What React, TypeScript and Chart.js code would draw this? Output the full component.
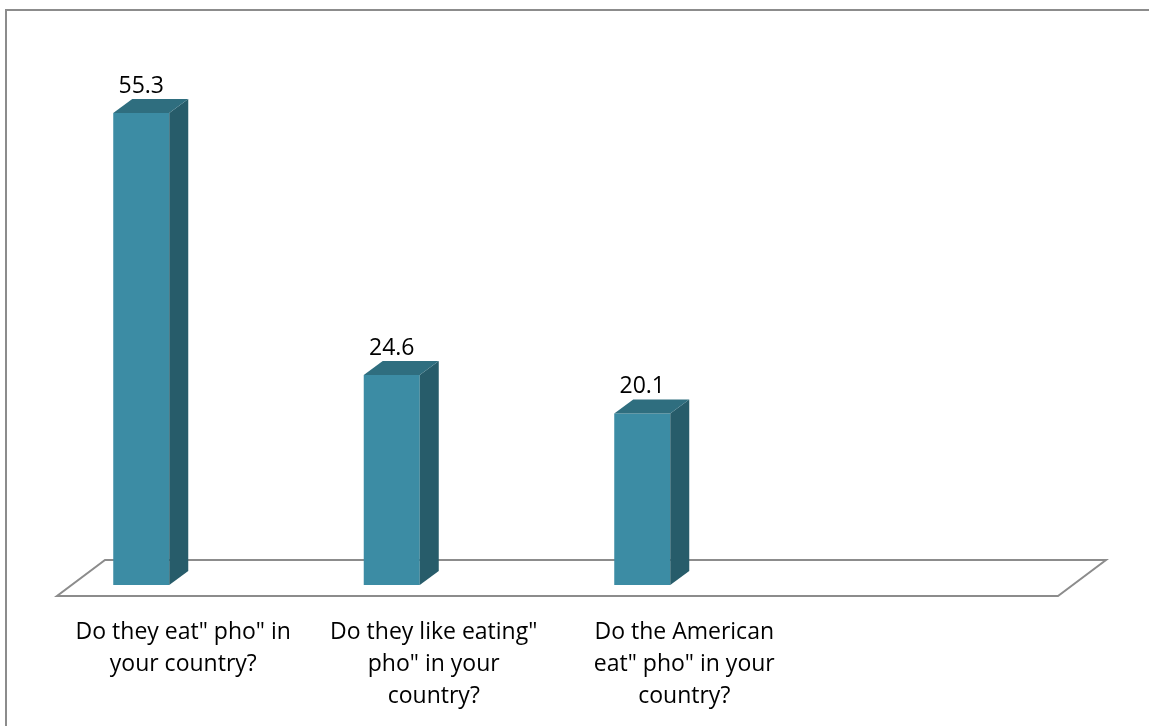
import React, { useEffect, useRef } from "react";
import { Chart, registerables } from "chart.js";

Chart.register(...registerables);

// Survey questions (the fourth slot is left empty)
const categories: string[][] = [
  ['Do they eat" pho" in', "your country?"],
  ['Do they like eating"', 'pho" in your', "country?"],
  ["Do the American", 'eat" pho" in your', "country?"],
  [""],
];
const values: (number | null)[] = [55.3, 24.6, 20.1, null];
const valueLabels: string[] = ["55.3", "24.6", "20.1", ""];

const FONT = "'Open Sans', Lato, sans-serif";
const FRONT = "#3C8CA4";
const SIDE = "#275C6A";
const TOP = "#2F6E7F";
const DEPTH_X = 19;
const DEPTH_Y = 14;

// Draws the 3D floor, the bar depth faces and the value labels
const box3d = {
  id: "box3d",
  beforeDatasetsDraw(chart: any) {
    const { ctx, chartArea } = chart;
    const { left, right, bottom } = chartArea;
    ctx.save();
    ctx.strokeStyle = "#8c8c8c";
    ctx.lineWidth = 2;
    ctx.lineJoin = "miter";
    ctx.beginPath();
    ctx.moveTo(left + 41, bottom + 11);
    ctx.lineTo(right + 40, bottom + 11);
    ctx.lineTo(right + 88, bottom - 25);
    ctx.lineTo(left + 89, bottom - 25);
    ctx.closePath();
    ctx.stroke();
    ctx.restore();
  },
  afterDatasetsDraw(chart: any) {
    const { ctx } = chart;
    const meta = chart.getDatasetMeta(0);
    ctx.save();
    meta.data.forEach((bar: any, i: number) => {
      if (values[i] == null) return;
      const { x, y, base, width } = bar.getProps(["x", "y", "base", "width"], true);
      const l = x - width / 2;
      const r = x + width / 2;
      // side face
      ctx.fillStyle = SIDE;
      ctx.beginPath();
      ctx.moveTo(r, y);
      ctx.lineTo(r + DEPTH_X, y - DEPTH_Y);
      ctx.lineTo(r + DEPTH_X, base - DEPTH_Y);
      ctx.lineTo(r, base);
      ctx.closePath();
      ctx.fill();
      // top face
      ctx.fillStyle = TOP;
      ctx.beginPath();
      ctx.moveTo(l, y);
      ctx.lineTo(l + DEPTH_X, y - DEPTH_Y);
      ctx.lineTo(r + DEPTH_X, y - DEPTH_Y);
      ctx.lineTo(r, y);
      ctx.closePath();
      ctx.fill();
      // value label
      ctx.fillStyle = "#000";
      ctx.font = `23px ${FONT}`;
      ctx.textAlign = "center";
      ctx.textBaseline = "middle";
      ctx.fillText(valueLabels[i], x, y - 27);
    });
    ctx.restore();
  },
};

export default function App() {
  const ref = useRef<HTMLCanvasElement | null>(null);

  useEffect(() => {
    if (!ref.current) return;
    const chart = new Chart(ref.current, {
      type: "bar",
      data: {
        labels: categories,
        datasets: [
          {
            data: values,
            backgroundColor: FRONT,
            borderWidth: 0,
            categoryPercentage: 1,
            barPercentage: 0.2236,
          },
        ],
      },
      options: {
        animation: false,
        responsive: false,
        layout: { padding: { left: 16, right: 131, top: 73, bottom: 0 } },
        plugins: { legend: { display: false }, tooltip: { enabled: false } },
        scales: {
          x: {
            grid: { display: false, drawTicks: false },
            border: { display: false },
            ticks: {
              color: "#000",
              font: { family: FONT, size: 23, lineHeight: 32 / 23 },
              padding: 31,
              labelOffset: 42,
              maxRotation: 0,
              autoSkip: false,
            },
            afterFit: (scale: any) => {
              scale.height = 141;
            },
          },
          y: {
            display: false,
            min: 0,
            max: 60,
          },
        },
      },
      plugins: [box3d],
    });
    return () => chart.destroy();
  }, []);

  return (
    <div
      style={{
        position: "absolute",
        left: 0,
        top: 0,
        width: 1149,
        height: 726,
        overflow: "hidden",
        background: "#fff",
      }}
    >
      <div
        style={{
          position: "absolute",
          left: 5,
          top: 9,
          width: 1200,
          height: 800,
          borderTop: "2px solid #8c8c8c",
          borderLeft: "2px solid #8c8c8c",
        }}
      />
      <canvas
        ref={ref}
        width={1149}
        height={726}
        style={{ position: "absolute", left: 0, top: 0 }}
      />
    </div>
  );
}
